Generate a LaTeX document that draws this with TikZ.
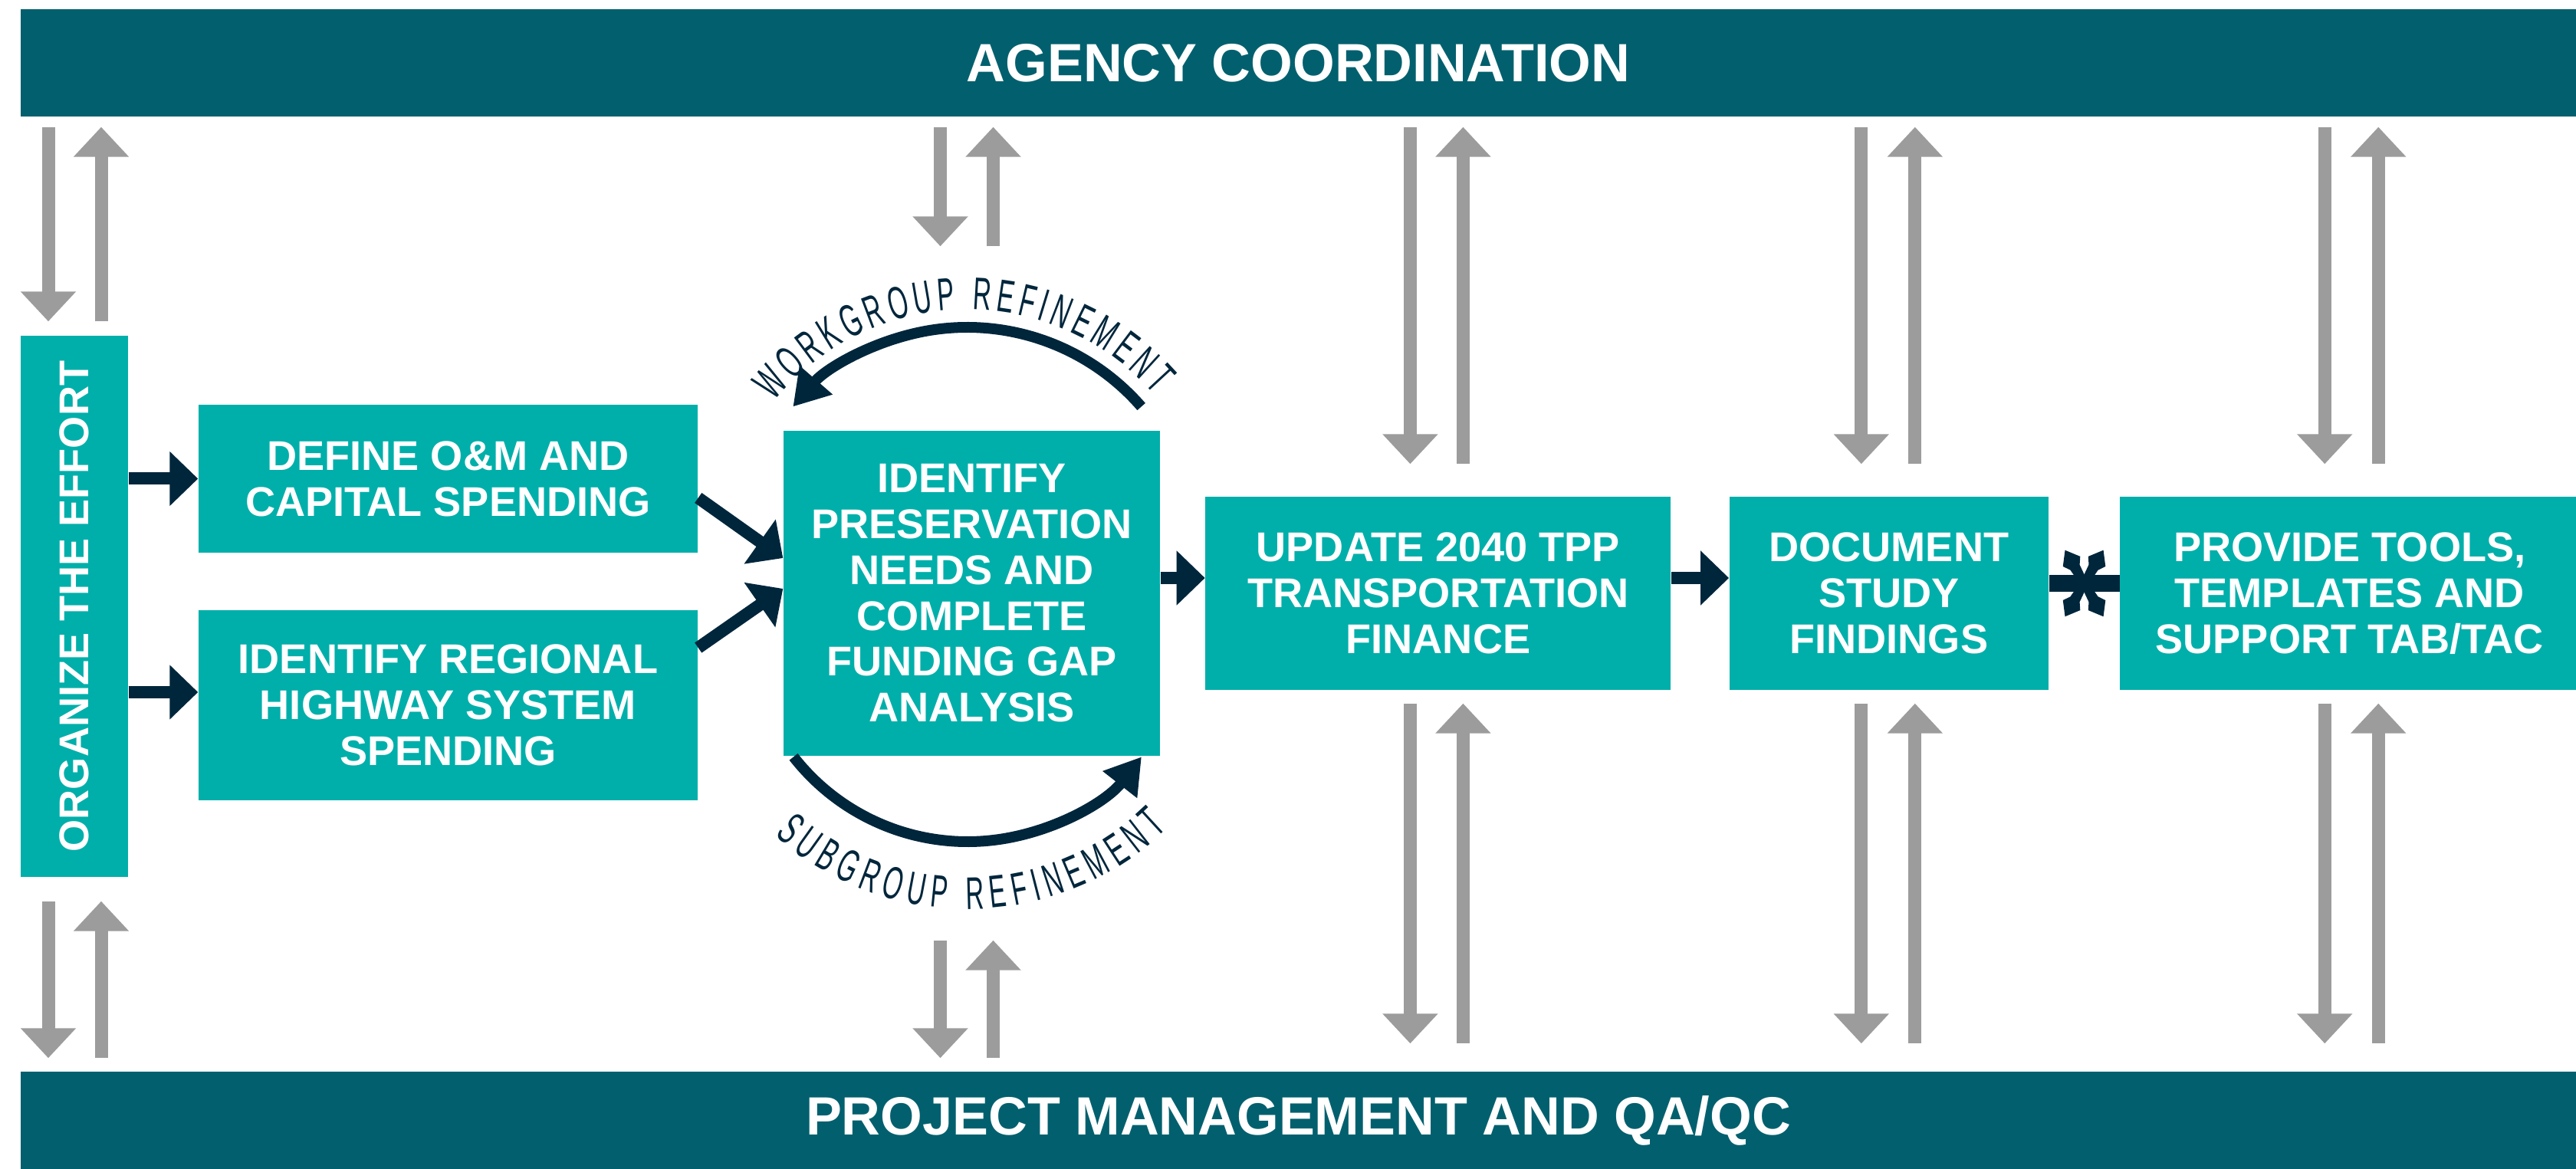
\documentclass[tikz,border=0pt]{standalone}
\usepackage{fontspec}
\setmainfont{Liberation Sans}
\newfontfamily\arcfont{Liberation Sans}[FakeStretch=0.55]
\usetikzlibrary{positioning,arrows.meta,calc,decorations.text}
\definecolor{barteal}{HTML}{02606E}
\definecolor{boxteal}{HTML}{00AFAA}
\definecolor{inknavy}{HTML}{00263C}
\definecolor{arrowgrey}{HTML}{9C9C9C}
\newcommand{\steptext}{\bfseries\fontsize{15.4}{17}\selectfont}
\newcommand{\bandtext}{\bfseries\fontsize{20}{24}\selectfont}
\newcommand{\petal}[1]{\fill[inknavy,shift={(star)},rotate=#1] (0,0.05) -- (0.24,0.07) -- (0.33,0.13) -- (0.50,0) -- (0.33,-0.13) -- (0.24,-0.07) -- (0,-0.05) -- cycle;}

\tikzset{
	bandbox/.style={fill=barteal, text=white, font=\bandtext, minimum width=33.33cm, inner sep=0},
	stepbox/.style={fill=boxteal, text=white, font=\steptext, align=center, inner sep=0},
	greyarrow/.style={draw=arrowgrey, line width=1.7mm, -{Triangle[length=3.9mm,width=7mm]}},
	navyarrow/.style={draw=inknavy, line width=1.6mm, -{Triangle[length=3.7mm,width=6.9mm]}},
	loop arc/.style={draw=inknavy, line width=1.4mm, -{Triangle[length=4.6mm,width=5.4mm]}},
	arctext/.style={decorate, decoration={text along path, text color=inknavy, text align={fit to path},
		text={|\arcfont\fontsize{17}{17}\selectfont|#1}}}
}

\begin{document}
\begin{tikzpicture}
	\useasboundingbox (0,0) rectangle (33.6,-15.25);

	\node[bandbox, minimum height=1.40cm] (agency) at (16.935,-0.82) {AGENCY COORDINATION};
	\node[bandbox, minimum height=1.27cm] (pm) at (16.935,-14.615) {PROJECT MANAGEMENT AND QA/QC};

	\node[stepbox, minimum width=1.40cm, minimum height=7.06cm] (org) at (0.97,-7.91) {\rotatebox{90}{ORGANIZE THE EFFORT}};
	\node[stepbox, minimum width=6.51cm, minimum height=1.93cm] (define) at (5.845,-6.245) {DEFINE O\&M AND\\CAPITAL SPENDING};
	\node[stepbox, minimum width=6.51cm, minimum height=2.48cm] (regional) at (5.845,-9.20) {IDENTIFY REGIONAL\\HIGHWAY SYSTEM\\SPENDING};
	\node[stepbox, minimum width=4.91cm, minimum height=4.24cm] (preserve) at (12.675,-7.74) {IDENTIFY\\PRESERVATION\\NEEDS AND\\COMPLETE\\FUNDING GAP\\ANALYSIS};
	\node[stepbox, minimum width=6.07cm, minimum height=2.52cm, right=0.58cm of preserve] (update) {UPDATE 2040 TPP\\TRANSPORTATION\\FINANCE};
	\node[stepbox, minimum width=4.16cm, minimum height=2.52cm, right=0.75cm of update] (document) {DOCUMENT\\STUDY\\FINDINGS};
	\node[stepbox, minimum width=5.99cm, minimum height=2.52cm, right=0.92cm of document] (provide) {PROVIDE TOOLS,\\TEMPLATES AND\\SUPPORT TAB/TAC};

	\draw[navyarrow] (org.east |- define.west) -- (define.west);
	\coordinate (regin) at ([yshift=1.7mm]regional.west);
	\draw[navyarrow] (org.east |- regin) -- (regin);
	\draw[navyarrow] ([yshift=-2.5mm]define.east) -- ([yshift=4.6mm]preserve.west);
	\draw[navyarrow] ([yshift=7.5mm]regional.east) -- ([yshift=0.6mm]preserve.west);
	\coordinate (updin) at ([yshift=2mm]update.west);
	\draw[navyarrow] (preserve.east |- updin) -- (updin);
	\coordinate (docin) at ([yshift=2mm]document.west);
	\draw[navyarrow] (update.east |- docin) -- (docin);

	% asterisk between the last two steps
	\coordinate (star) at ($(document.east)!0.5!(provide.west)+(0,0.13)$);
	\draw[inknavy, line width=2.2mm] (document.east |- star) -- (provide.west |- star);
	\petal{60}
	\petal{120}
	\petal{240}
	\petal{300}

	% refinement loops
	\coordinate (wgc) at ($(preserve.center)+(-0.06,0.46)$);
	\coordinate (sgc) at ($(preserve.center)+(-0.055,-0.36)$);
	\draw[loop arc] (wgc) ++(41:3.01) arc[start angle=41, end angle=139, radius=3.01];
	\draw[loop arc] (sgc) ++(218:2.88) arc[start angle=218, end angle=322, radius=2.88];
	\path[arctext={WORKGROUP REFINEMENT}] (wgc) ++(141:3.24) arc[start angle=141, end angle=41, radius=3.24];
	\path[arctext={SUBGROUP REFINEMENT}] (sgc) ++(228:3.76) arc[start angle=228, end angle=314, radius=3.76];

	\draw[greyarrow] ($(agency.south -| org.north)+(-0.34,-0.13)$) -- ($(org.north)+(-0.34,0.18)$);
	\draw[greyarrow] ($(org.north)+(0.35,0.18)$) -- ($(agency.south -| org.north)+(0.35,-0.13)$);
	\draw[greyarrow] ($(org.south)+(-0.34,-0.31)$) -- ($(pm.north -| org.south)+(-0.34,0.17)$);
	\draw[greyarrow] ($(pm.north -| org.south)+(0.35,0.17)$) -- ($(org.south)+(0.35,-0.31)$);

	\draw[greyarrow] ($(agency.south -| preserve.north)+(-0.41,-0.13)$) -- ($(preserve.north)+(-0.41,2.40)$);
	\draw[greyarrow] ($(preserve.north)+(0.28,2.40)$) -- ($(agency.south -| preserve.north)+(0.28,-0.13)$);
	\draw[greyarrow] ($(preserve.south)+(-0.41,-2.40)$) -- ($(pm.north -| preserve.south)+(-0.41,0.17)$);
	\draw[greyarrow] ($(pm.north -| preserve.south)+(0.28,0.17)$) -- ($(preserve.south)+(0.28,-2.40)$);

	\draw[greyarrow] ($(agency.south -| update.north)+(-0.365,-0.13)$) -- ($(update.north)+(-0.365,0.42)$);
	\draw[greyarrow] ($(update.north)+(0.325,0.42)$) -- ($(agency.south -| update.north)+(0.325,-0.13)$);
	\draw[greyarrow] ($(update.south)+(-0.365,-0.17)$) -- ($(pm.north -| update.south)+(-0.365,0.36)$);
	\draw[greyarrow] ($(pm.north -| update.south)+(0.325,0.36)$) -- ($(update.south)+(0.325,-0.17)$);

	\draw[greyarrow] ($(agency.south -| document.north)+(-0.36,-0.13)$) -- ($(document.north)+(-0.36,0.42)$);
	\draw[greyarrow] ($(document.north)+(0.34,0.42)$) -- ($(agency.south -| document.north)+(0.34,-0.13)$);
	\draw[greyarrow] ($(document.south)+(-0.36,-0.17)$) -- ($(pm.north -| document.south)+(-0.36,0.36)$);
	\draw[greyarrow] ($(pm.north -| document.south)+(0.34,0.36)$) -- ($(document.south)+(0.34,-0.17)$);

	\draw[greyarrow] ($(agency.south -| provide.north)+(-0.325,-0.13)$) -- ($(provide.north)+(-0.325,0.42)$);
	\draw[greyarrow] ($(provide.north)+(0.375,0.42)$) -- ($(agency.south -| provide.north)+(0.375,-0.13)$);
	\draw[greyarrow] ($(provide.south)+(-0.325,-0.17)$) -- ($(pm.north -| provide.south)+(-0.325,0.36)$);
	\draw[greyarrow] ($(pm.north -| provide.south)+(0.375,0.36)$) -- ($(provide.south)+(0.375,-0.17)$);
\end{tikzpicture}
\end{document}
